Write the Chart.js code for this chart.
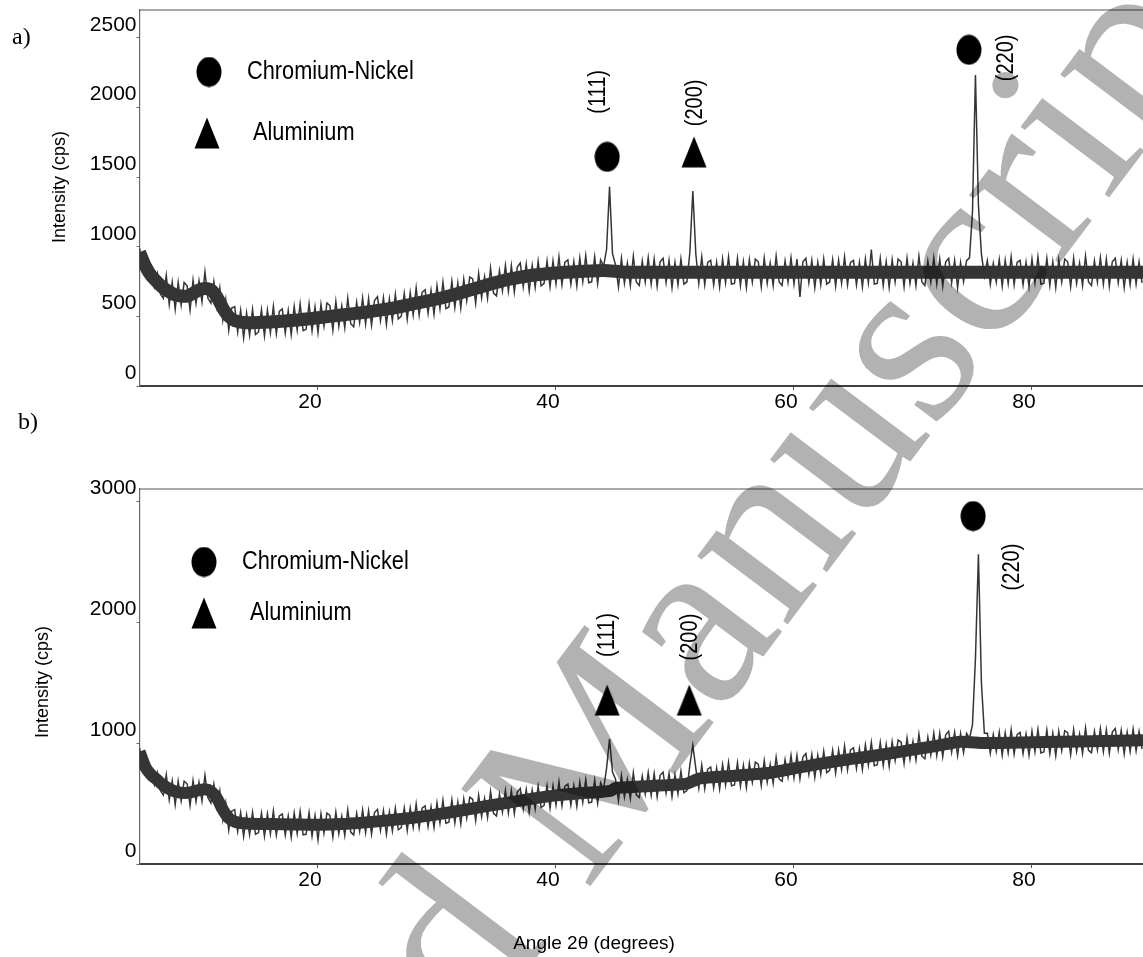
<!DOCTYPE html>
<html><head><meta charset="utf-8">
<script src="https://cdn.jsdelivr.net/npm/chart.js@4.4.1/dist/chart.umd.min.js"></script>
<style>
html,body{margin:0;padding:0;background:#fff;overflow:hidden;}
#wrap{position:relative;width:1143px;height:957px;}
#ca{position:absolute;left:0;top:0;}
#cb{position:absolute;left:0;top:440px;}
#wm{position:absolute;left:0;top:0;pointer-events:none;}
</style></head><body>
<div id="wrap">
<canvas id="ca" width="1143" height="440"></canvas>
<canvas id="cb" width="1143" height="517"></canvas>
<canvas id="wm" width="1143" height="957"></canvas>
</div>
<script>
// ---------------- data ----------------
const angleStart = 5, angleStep = 0.25;          // 2θ grid of the scans
const xTicks = [20, 40, 60, 80];
const yTicksA = [0, 500, 1000, 1500, 2000, 2500];
const yTicksB = [0, 1000, 2000, 3000];
const phases = ['Chromium-Nickel', 'Aluminium'];

// a) intensity (cps), 5.00° .. 89.25° every 0.25°
const intensityA = [
 990, 870, 895, 775, 840, 713, 808, 663,
 630, 795, 585, 745, 550, 745, 580, 743,
 720, 545, 760, 595, 755, 605, 820, 630,
 595, 750, 570, 705, 475, 620, 400, 560,
 570, 387, 543, 345, 525, 365, 550, 370,
 388, 548, 360, 545, 382, 572, 375, 535,
 553, 380, 542, 369, 571, 403, 590, 398,
 407, 589, 396, 568, 385, 587, 429, 596,
 578, 400, 607, 429, 575, 417, 630, 447,
 425, 602, 455, 632, 445, 628, 436, 614,
 642, 470, 634, 442, 625, 469, 658, 482,
 501, 665, 480, 670, 510, 704, 508, 673,
 692, 522, 686, 515, 720, 555, 746, 556,
 567, 753, 564, 739, 560, 766, 612, 783,
 769, 595, 807, 633, 785, 631, 846, 667,
 647, 828, 684, 865, 680, 865, 675, 854,
 883, 712, 875, 683, 865, 708, 896, 719,
 737, 899, 711, 898, 735, 927, 728, 889,
 905, 731, 892, 718, 919, 750, 936, 742,
 748, 928, 735, 905, 860, 980, 1430, 950,
 870, 712, 917, 737, 882, 722, 932, 747,
 722, 897, 747, 922, 732, 912, 717, 892,
 917, 742, 902, 707, 887, 727, 912, 732,
 747, 960, 1400, 950, 737, 927, 727, 887,
 902, 727, 887, 712, 912, 742, 927, 732,
 737, 917, 722, 892, 707, 907, 747, 912,
 892, 712, 917, 737, 882, 722, 932, 747,
 722, 897, 747, 922, 732, 912, 640, 892,
 917, 742, 902, 707, 887, 727, 912, 732,
 747, 907, 717, 902, 737, 927, 727, 887,
 902, 727, 887, 712, 912, 742, 980, 732,
 737, 917, 722, 892, 707, 907, 747, 912,
 892, 712, 917, 737, 882, 722, 932, 747,
 722, 897, 747, 922, 732, 912, 717, 892,
 917, 742, 902, 707, 887, 750, 900, 920,
 1250, 2234, 1300, 950, 790, 900, 730, 880,
 747, 907, 717, 902, 737, 927, 727, 887,
 902, 727, 887, 712, 912, 742, 927, 732,
 737, 917, 722, 892, 707, 907, 747, 912,
 892, 712, 917, 737, 882, 722, 932, 747,
 722, 897, 747, 922, 732, 912, 717, 892,
 917, 742, 902, 707, 887, 727, 912, 732,
 890, 740
];

// b) intensity (cps), same grid
const intensityB = [
 960, 830, 835, 715, 785, 657, 755, 607,
 570, 738, 530, 687, 490, 685, 522, 685,
 663, 483, 690, 518, 675, 520, 733, 548,
 505, 660, 475, 605, 365, 505, 280, 437,
 450, 270, 425, 227, 405, 243, 427, 246,
 260, 420, 230, 415, 250, 439, 239, 398,
 413, 238, 397, 222, 422, 251, 436, 241,
 245, 425, 230, 400, 200, 415, 255, 420,
 401, 222, 428, 249, 395, 236, 448, 264,
 241, 418, 270, 447, 259, 441, 248, 425,
 452, 279, 441, 248, 431, 273, 461, 283,
 301, 464, 277, 465, 303, 496, 299, 462,
 480, 309, 472, 301, 505, 339, 528, 337,
 346, 530, 339, 513, 332, 537, 381, 551,
 535, 359, 568, 392, 541, 385, 599, 418,
 397, 576, 430, 609, 423, 607, 416, 595,
 624, 453, 617, 426, 610, 454, 643, 467,
 485, 648, 461, 649, 487, 680, 482, 644,
 661, 488, 650, 477, 679, 511, 698, 505,
 512, 694, 501, 673, 620, 790, 1033, 760,
 703, 525, 732, 554, 701, 543, 755, 572,
 549, 726, 578, 755, 567, 749, 556, 733,
 760, 587, 749, 556, 738, 580, 767, 589,
 606, 820, 983, 790, 625, 818, 621, 784,
 802, 630, 792, 619, 821, 653, 840, 647,
 654, 836, 643, 815, 632, 834, 676, 843,
 825, 647, 854, 676, 823, 668, 883, 703,
 683, 863, 718, 898, 712, 896, 705, 884,
 913, 742, 906, 715, 899, 743, 932, 756,
 775, 939, 753, 942, 781, 975, 779, 943,
 961, 790, 953, 781, 984, 817, 1005, 813,
 821, 1005, 814, 988, 807, 1011, 855, 1024,
 1008, 832, 1041, 865, 1014, 858, 1072, 891,
 870, 1049, 903, 1082, 896, 1080, 889, 1068,
 1097, 925, 1088, 896, 1078, 920, 1080, 1040,
 1150, 1700, 2560, 1500, 1080, 1080, 915, 1070,
 930, 1090, 900, 1085, 920, 1110, 910, 1070,
 1088, 913, 1073, 898, 1098, 928, 1113, 918,
 927, 1107, 912, 1082, 897, 1097, 937, 1102,
 1085, 905, 1110, 930, 1075, 915, 1125, 940,
 920, 1095, 945, 1120, 930, 1110, 915, 1090,
 1120, 945, 1105, 910, 1090, 930, 1115, 935,
 1095, 950
];

// background (centre of the noise band)
const bgAngleA = [5, 5.5, 6, 6.5, 7, 8, 9, 10, 10.5, 11, 11.5, 12, 12.5, 13, 14, 16, 18, 20, 22, 24, 26, 28, 30, 32, 34, 36, 38, 40, 42, 44, 46, 55, 65, 75, 85, 89.33];
const bgValueA = [960, 860, 790, 745, 705, 655, 645, 690, 700, 690, 640, 560, 500, 470, 455, 460, 472, 490, 510, 530, 555, 590, 625, 670, 720, 765, 795, 812, 822, 830, 817, 817, 817, 817, 817, 817];
const bgAngleB = [5, 5.5, 6, 6.5, 7, 8, 9, 10, 10.5, 11, 11.5, 12, 12.5, 13, 14, 16, 18, 20, 22, 24, 26, 28, 30, 32, 34, 36, 38, 40, 42, 44, 44.6, 45, 48, 51, 52, 55, 58, 60, 62, 64, 66, 68, 70, 72, 74, 76, 80, 85, 89.33];
const bgValueB = [930, 800, 735, 695, 650, 600, 588, 610, 618, 600, 545, 450, 380, 350, 335, 330, 327, 325, 330, 344, 361, 383, 410, 442, 476, 508, 540, 567, 584, 598, 605, 628, 645, 665, 705, 730, 755, 790, 825, 857, 885, 913, 945, 977, 1010, 1000, 1007, 1015, 1022];

// peak markers and labels (2θ, intensity position, phase, hkl)
const peakAngleA  = [44.3, 51.6, 74.7];
const peakMarkA   = [1645, 1681, 2414];
const peakPhaseA  = ['Chromium-Nickel', 'Aluminium', 'Chromium-Nickel'];
const peakHklA    = ['(111)', '(200)', '(220)'];
const hklAngleA   = [43.6, 51.7, 77.9];
const hklPosA     = [2112, 2033, 2356];

const peakAngleB  = [44.3, 51.2, 75.05];
const peakMarkB   = [1355, 1355, 2876];
const peakPhaseB  = ['Aluminium', 'Aluminium', 'Chromium-Nickel'];
const peakHklB    = ['(111)', '(200)', '(220)'];
const hklAngleB   = [44.3, 51.3, 78.4];
const hklPosB     = [1893, 1876, 2455];

// ---------------- styling helpers ----------------
const FONT = "'Liberation Sans', Arial, sans-serif";
const SERIF = "'Liberation Serif', 'Times New Roman', serif";
const LINE = '#353535';

function makeEllipse() {
  const c = document.createElement('canvas'); c.width = 26; c.height = 31;
  const g = c.getContext('2d'); g.fillStyle = '#000';
  g.beginPath(); g.ellipse(13, 15.5, 12.5, 15, 0, 0, Math.PI * 2); g.fill();
  return c;
}
function makeTriangle() {
  const c = document.createElement('canvas'); c.width = 26; c.height = 32;
  const g = c.getContext('2d'); g.fillStyle = '#000';
  g.beginPath(); g.moveTo(13, 0.5); g.lineTo(25.5, 31.5); g.lineTo(0.5, 31.5); g.closePath(); g.fill();
  return c;
}
const ELL = makeEllipse(), TRI = makeTriangle();
const phaseStyle = { 'Chromium-Nickel': ELL, 'Aluminium': TRI };

function drawText(ctx, text, x, y, o) {
  ctx.save();
  ctx.translate(x, y);
  if (o.rot) ctx.rotate(o.rot);
  if (o.sx) ctx.scale(o.sx, 1);
  ctx.font = `${o.size}px ${o.font || FONT}`;
  ctx.fillStyle = o.color || '#000';
  ctx.textAlign = o.align || 'left';
  ctx.textBaseline = 'middle';
  ctx.fillText(text, 0, 0);
  ctx.restore();
}

const annotate = {
  id: 'annotate',
  afterDraw(chart, args, opts) {
    const ctx = chart.ctx, ca = chart.chartArea;
    const xs = chart.scales.x, ys = chart.scales.y;
    ctx.save();
    ctx.strokeStyle = '#555'; ctx.lineWidth = 1.2;
    ctx.beginPath(); ctx.moveTo(ca.left, ca.top); ctx.lineTo(ca.right, ca.top); ctx.stroke();
    (opts.legend || []).forEach(it => {
      const img = phaseStyle[it.phase];
      ctx.drawImage(img, ca.left + it.dx - img.width / 2, ca.top + it.dy - img.height / 2);
      drawText(ctx, it.phase, ca.left + it.tx, ca.top + it.dy, { size: 25, sx: 0.87 });
    });
    (opts.hkl || []).forEach(h => {
      drawText(ctx, h.text, xs.getPixelForValue(h.x), ys.getPixelForValue(h.y),
        { size: 23, sx: 0.87, rot: -Math.PI / 2, align: 'center' });
    });
    (opts.texts || []).forEach(t => drawText(ctx, t.text, t.x, t.y, t));
    ctx.restore();
  }
};

function panelConfig(vals, bgA, bgV, bgWidth, yMax, yTicks, peaks, extra, xAxisHeight) {
  const line = vals.map((v, i) => ({ x: angleStart + i * angleStep, y: v }));
  const bg = bgA.map((a, i) => ({ x: a, y: bgV[i] }));
  const markerSets = phases.map(ph => ({
    label: ph,
    type: 'scatter',
    data: peaks.angle.map((a, i) => ({ x: a, y: peaks.mark[i], ph: peaks.phase[i] }))
                     .filter(d => d.ph === ph),
    pointStyle: phaseStyle[ph],
    pointRadius: 12,
    showLine: false,
    order: 0
  }));
  const hkl = peaks.hkl.map((t, i) => ({ text: t, x: peaks.hklAngle[i], y: peaks.hklPos[i] }));
  return {
    type: 'line',
    data: {
      datasets: [{
        label: 'XRD',
        data: line,
        borderColor: LINE,
        borderWidth: 1.5,
        pointRadius: 0,
        tension: 0,
        order: 1
      }, {
        label: 'background',
        data: bg,
        borderColor: LINE,
        borderWidth: bgWidth,
        borderJoinStyle: 'round',
        borderCapStyle: 'butt',
        pointRadius: 0,
        tension: 0.2,
        order: 2
      }, ...markerSets]
    },
    options: {
      responsive: false,
      animation: false,
      devicePixelRatio: 1,
      layout: { autoPadding: false, padding: { top: extra.padTop, left: 0, right: 0, bottom: 0 } },
      plugins: {
        legend: { display: false },
        tooltip: { enabled: false },
        annotate: { legend: extra.legend, hkl, texts: extra.texts }
      },
      scales: {
        x: {
          type: 'linear', min: 5, max: 89.33,
          afterBuildTicks: s => { s.ticks = xTicks.map(v => ({ value: v })); },
          ticks: { font: { family: FONT, size: 21 }, color: '#000', labelOffset: -8, padding: 0, maxRotation: 0, autoSkip: false,
                   callback: v => String(v) },
          grid: { drawOnChartArea: false, drawTicks: true, tickLength: 4, tickColor: '#555', color: '#555' },
          border: { display: true, color: '#404040', width: 2 },
          afterFit: s => { s.height = xAxisHeight; s.paddingLeft = 0; s.paddingRight = 0; }
        },
        y: {
          type: 'linear', min: 0, max: yMax,
          afterBuildTicks: s => { s.ticks = yTicks.map(v => ({ value: v })); },
          ticks: { font: { family: FONT, size: 21 }, color: '#000', labelOffset: -13, padding: 0, autoSkip: false,
                   callback: v => String(v) },
          grid: { drawOnChartArea: false, drawTicks: true, tickLength: 3, tickColor: '#666', color: '#666' },
          border: { display: true, color: '#666', width: 1.2 },
          afterFit: s => { s.width = 139.5; s.paddingTop = 0; s.paddingBottom = 0; }
        }
      }
    },
    plugins: [annotate]
  };
}

new Chart(document.getElementById('ca'), panelConfig(
  intensityA, bgAngleA, bgValueA, 13, 2700, yTicksA,
  { angle: peakAngleA, mark: peakMarkA, phase: peakPhaseA, hkl: peakHklA, hklAngle: hklAngleA, hklPos: hklPosA },
  {
    padTop: 10,
    legend: [
      { phase: 'Chromium-Nickel', dx: 69.5, dy: 62, tx: 107.5 },
      { phase: 'Aluminium', dx: 67.5, dy: 123, tx: 113.5 }
    ],
    texts: [
      { text: 'a)', x: 12, y: 38, size: 24, font: SERIF },
      { text: 'b)', x: 18, y: 423, size: 24, font: SERIF },
      { text: 'Intensity (cps)', x: 60, y: 187, size: 18, rot: -Math.PI / 2, align: 'center' }
    ]
  }, 54));

new Chart(document.getElementById('cb'), panelConfig(
  intensityB, bgAngleB, bgValueB, 12, 3100, yTicksB,
  { angle: peakAngleB, mark: peakMarkB, phase: peakPhaseB, hkl: peakHklB, hklAngle: hklAngleB, hklPos: hklPosB },
  {
    padTop: 49,
    legend: [
      { phase: 'Chromium-Nickel', dx: 64.5, dy: 73, tx: 102.5 },
      { phase: 'Aluminium', dx: 64.5, dy: 124, tx: 110.5 }
    ],
    texts: [
      { text: 'Intensity (cps)', x: 43, y: 242, size: 18, rot: -Math.PI / 2, align: 'center' },
      { text: 'Angle 2θ (degrees)', x: 594, y: 504, size: 19, align: 'center' }
    ]
  }, 93));

// "Accepted Manuscript" watermark of the reference page
(function () {
  const c = document.getElementById('wm'), g = c.getContext('2d');
  g.save();
  g.translate(586, 892);
  g.rotate(-53 * Math.PI / 180);
  g.font = `247px ${SERIF}`;
  g.fillStyle = 'rgba(0,0,0,0.3)';
  g.textBaseline = 'alphabetic';
  g.textAlign = 'right';
  g.fillText('Accepted ', 0, 0);
  g.textAlign = 'left';
  g.fillText('Manuscript', 0, 0);
  g.restore();
})();
</script>
</body></html>
